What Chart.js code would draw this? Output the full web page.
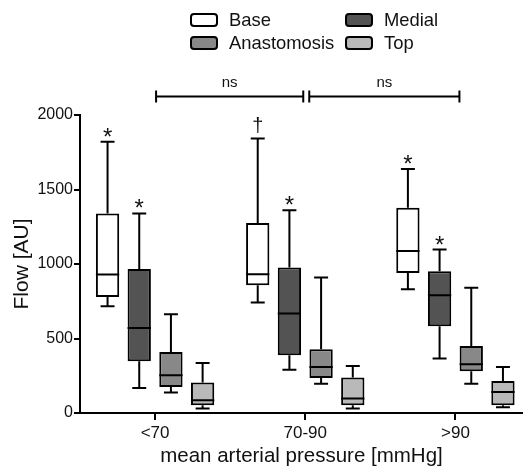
<!DOCTYPE html>
<html>
<head>
<meta charset="utf-8">
<script src="https://cdn.jsdelivr.net/npm/chart.js@4.4.1/dist/chart.umd.min.js"></script>
<style>
  body { margin: 0; background: #fff; }
  canvas { display: block; }
</style>
</head>
<body>
<canvas id="flowChart" width="523" height="467"></canvas>
<script>
'use strict'

// categories on the x axis
const categories = ['<70', '70-90', '>90'];
// y tick labels
const yTicks = [0, 500, 1000, 1500, 2000];

// series names + fills (legend order: Base, Medial, Anastomosis, Top)
const seriesNames = ['Base', 'Medial', 'Anastomosis', 'Top'];
const seriesColors = ['#ffffff', '#535353', '#888888', '#b9b9b9'];

// box plot values, per category: [min, q1, median, q3, max]
const base = [[717, 779, 929, 1339, 1820], [741, 858, 931, 1276, 1843], [831, 940, 1088, 1377, 1637]];
const medial = [[168, 347, 571, 967, 1339], [291, 387, 667, 976, 1361], [365, 582, 790, 952, 1097]];
const anastomosis = [[137, 175, 253, 410, 663], [197, 235, 309, 428, 909], [197, 280, 327, 450, 840]];
const top4 = [[30, 52, 85, 204, 336], [30, 52, 97, 238, 316], [38, 52, 141, 215, 309]];

// significance marks above the whiskers
const baseMarks = ['*', '†', '*'];
const medialMarks = ['*', '*', '*'];
// ns brackets between categories: [from, to, label]
const brackets = [[0, 1, 'ns'], [1, 2, 'ns']];
const bracketLevel = 2125;

const allStats = [base, medial, anastomosis, top4];
const allMarks = [baseMarks, medialMarks, null, null];

Chart.defaults.font.family = "'Liberation Sans', Arial, sans-serif";
Chart.defaults.color = '#111';

// whiskers, medians, stars and brackets
const boxPlugin = {
  id: 'boxPlugin',
  afterDatasetsDraw(chart) {
    const ctx = chart.ctx;
    const x = chart.scales.x;
    const y = chart.scales.y;
    ctx.save();
    ctx.strokeStyle = '#000';
    ctx.lineWidth = 2;
    chart.data.datasets.forEach((ds, d) => {
      const meta = chart.getDatasetMeta(d);
      meta.data.forEach((bar, i) => {
        const s = allStats[d][i];
        const half = bar.width / 2;
        const cap = bar.width * 0.3;
        ctx.beginPath();
        // upper whisker
        ctx.moveTo(bar.x, y.getPixelForValue(s[3]));
        ctx.lineTo(bar.x, y.getPixelForValue(s[4]));
        ctx.moveTo(bar.x - cap, y.getPixelForValue(s[4]));
        ctx.lineTo(bar.x + cap, y.getPixelForValue(s[4]));
        // lower whisker
        ctx.moveTo(bar.x, y.getPixelForValue(s[1]));
        ctx.lineTo(bar.x, y.getPixelForValue(s[0]));
        ctx.moveTo(bar.x - cap, y.getPixelForValue(s[0]));
        ctx.lineTo(bar.x + cap, y.getPixelForValue(s[0]));
        // median
        ctx.moveTo(bar.x - half, y.getPixelForValue(s[2]));
        ctx.lineTo(bar.x + half, y.getPixelForValue(s[2]));
        ctx.stroke();

        const marks = allMarks[d];
        if (marks && marks[i]) {
          ctx.fillStyle = '#111';
          ctx.textAlign = 'center';
          ctx.textBaseline = 'alphabetic';
          const py = y.getPixelForValue(s[4]);
          if (marks[i] === '†') {
            ctx.font = "20px 'Liberation Sans', Arial, sans-serif";
            ctx.fillText(marks[i], bar.x, py - 6);
          } else {
            ctx.font = "24px 'Liberation Sans', Arial, sans-serif";
            ctx.fillText(marks[i], bar.x, py + 3);
          }
        }
      });
    });

    // ns brackets
    const by = y.getPixelForValue(bracketLevel);
    brackets.forEach((b, k) => {
      const x1 = x.getPixelForValue(b[0]) + (k === 0 ? 1 : 4);
      const x2 = x.getPixelForValue(b[1]) + (k === 0 ? -2 : 4);
      ctx.beginPath();
      ctx.moveTo(x1, by); ctx.lineTo(x2, by);
      ctx.moveTo(x1, by - 6); ctx.lineTo(x1, by + 6);
      ctx.moveTo(x2, by - 6); ctx.lineTo(x2, by + 6);
      ctx.stroke();
      ctx.fillStyle = '#111';
      ctx.font = "15px 'Liberation Sans', Arial, sans-serif";
      ctx.textAlign = 'center';
      ctx.textBaseline = 'middle';
      ctx.fillText(b[2], (x1 + x2) / 2, by - 14);
    });
    ctx.restore();
  },
  // legend in two columns
  afterDraw(chart) {
    const ctx = chart.ctx;
    const colX = [191, 346];
    const rowY = [20, 43];
    ctx.save();
    seriesNames.forEach((name, i) => {
      const bx = colX[i % 2];
      const cy = rowY[Math.floor(i / 2)];
      ctx.beginPath();
      ctx.roundRect(bx, cy - 6, 26, 12, 3);
      ctx.fillStyle = seriesColors[i];
      ctx.fill();
      ctx.lineWidth = 2;
      ctx.strokeStyle = '#000';
      ctx.stroke();
      ctx.fillStyle = '#111';
      ctx.font = "18.4px 'Liberation Sans', Arial, sans-serif";
      ctx.textAlign = 'left';
      ctx.textBaseline = 'middle';
      ctx.fillText(name, bx + 38, cy + 1);
    });
    ctx.restore();
  }
};

const datasets = seriesNames.map((name, d) => ({
  label: name,
  data: allStats[d].map((s, i) => ({ x: i, y: [s[1], s[3]] })),
  backgroundColor: seriesColors[d],
  borderColor: '#000',
  borderWidth: 2,
  borderSkipped: false,
  categoryPercentage: 0.844,
  barPercentage: 0.735
}));

const config = {
  type: 'bar',
  data: { datasets: datasets },
  options: {
    responsive: false,
    animation: false,
    layout: { padding: { top: 115, right: 0, left: 0, bottom: 0 } },
    plugins: {
      legend: { display: false },
      tooltip: { enabled: false }
    },
    scales: {
      x: {
        type: 'linear',
        offset: false,
        bounds: 'data',
        min: -0.5,
        max: 2.45,
        afterBuildTicks: (scale) => { scale.ticks = categories.map((c, i) => ({ value: i })); },
        afterFit: (scale) => { scale.height = 54; },
        ticks: {
          callback: (v) => categories[v],
          font: { size: 17 },
          padding: 3,
          maxRotation: 0
        },
        grid: { offset: false, drawOnChartArea: false, tickLength: 7, lineWidth: 2, color: '#000' },
        border: { color: '#000', width: 2 },
        title: {
          display: true,
          text: 'mean arterial pressure [mmHg]',
          font: { size: 20.5, lineHeight: 1 },
          padding: { top: 0, bottom: 0 }
        }
      },
      y: {
        min: 0,
        max: 2000,
        afterBuildTicks: (scale) => { scale.ticks = yTicks.map((v) => ({ value: v })); },
        afterFit: (scale) => { scale.width = 80; },
        ticks: { font: { size: 16 }, padding: 1, callback: (v) => String(v) },
        grid: { drawOnChartArea: false, tickLength: 6, lineWidth: 2, color: '#000' },
        border: { color: '#000', width: 2 },
        title: {
          display: true,
          text: 'Flow [AU]',
          font: { size: 21 },
          padding: { top: 10, bottom: 0 }
        }
      }
    }
  },
  plugins: [boxPlugin]
};

const ctx = document.getElementById('flowChart').getContext('2d');
const flowChart = new Chart(ctx, config);
</script>
</body>
</html>
